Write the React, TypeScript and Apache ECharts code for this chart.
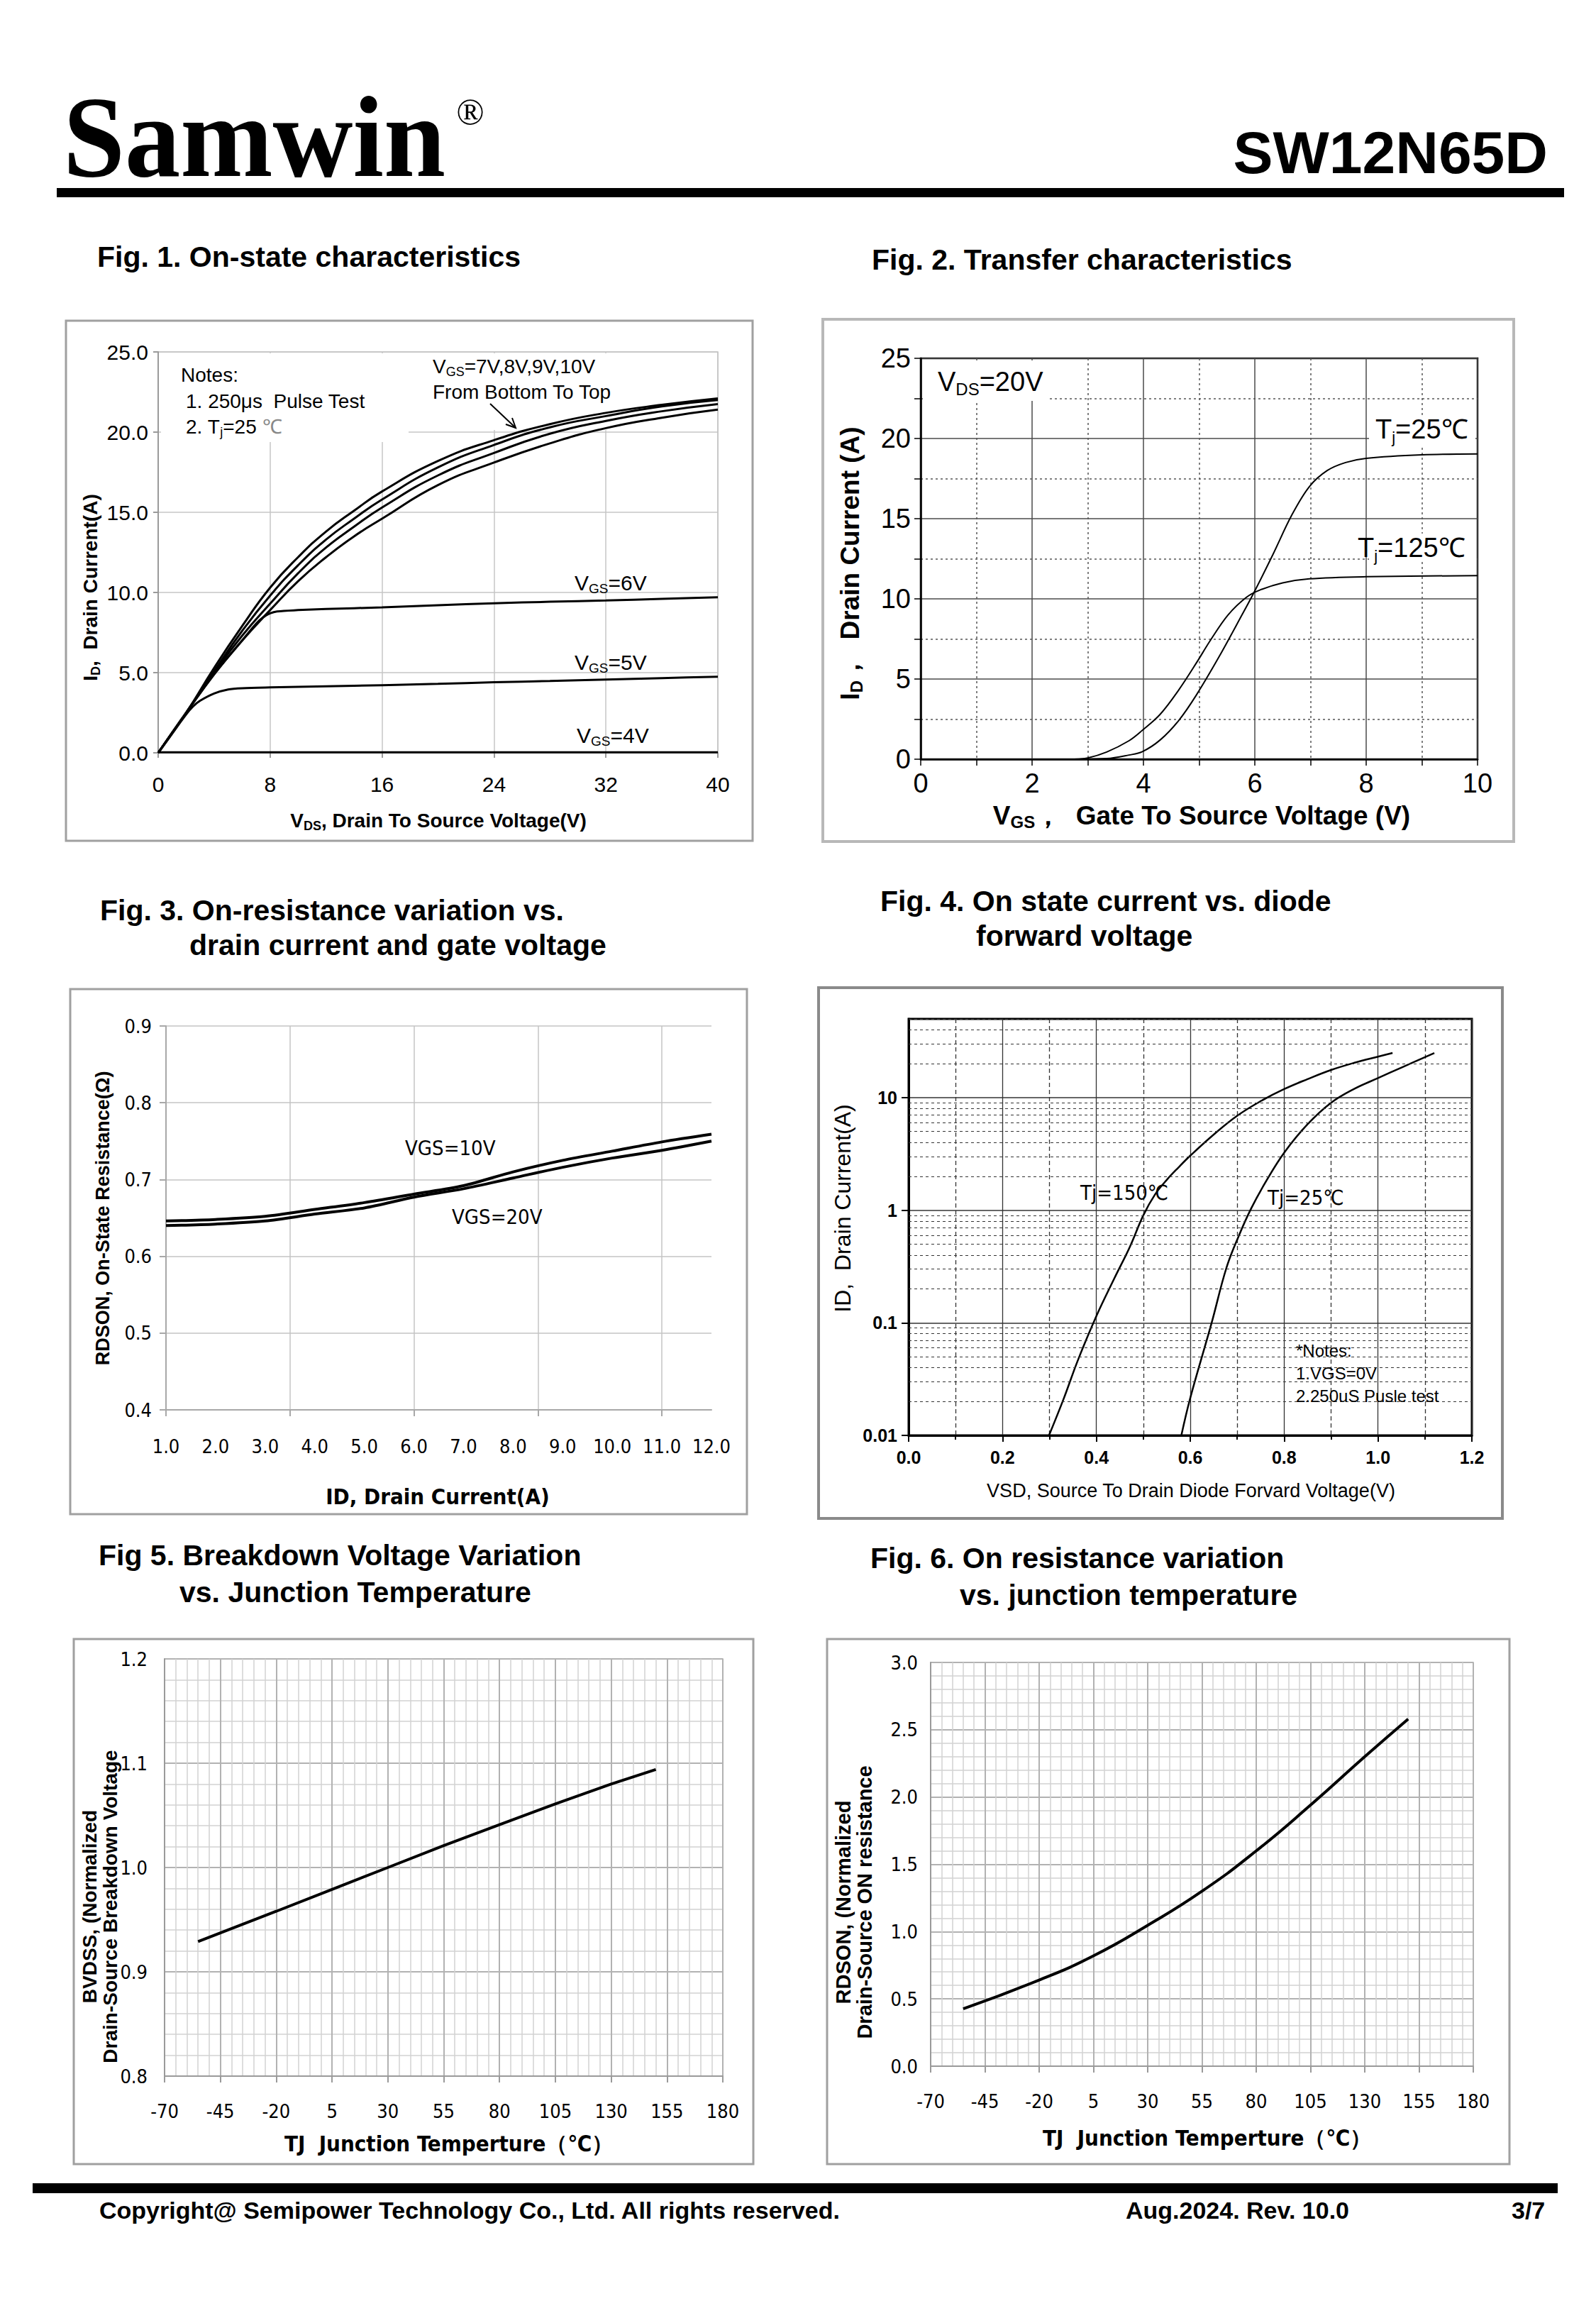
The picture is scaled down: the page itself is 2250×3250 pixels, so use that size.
import React, { useEffect, useRef } from "react";
import * as echarts from "echarts";

const ARIAL = '"Liberation Sans", Arial, Helvetica, sans-serif';
const NARROW = '"Liberation Sans Narrow", "Arial Narrow", "DejaVu Sans Condensed", "Liberation Sans", sans-serif';
const SERIF = '"Liberation Serif", "Times New Roman", serif';

// ---------- Fig. 1  On-state characteristics ----------
const fig1BundleVds = [0, 2, 4, 6, 8, 10, 12, 14, 16, 20, 24, 28, 32, 36, 40];
const fig1Id10V = [0, 2.5, 5.3, 7.9, 10.3, 12.2, 13.8, 15.1, 16.3, 18.2, 19.5, 20.5, 21.2, 21.7, 22.1];
const fig1Id9V = [0, 2.5, 5.1, 7.6, 9.8, 11.7, 13.3, 14.6, 15.8, 17.8, 19.2, 20.3, 21.0, 21.6, 22.0];
const fig1Id8V = [0, 2.5, 5.0, 7.3, 9.3, 11.2, 12.8, 14.1, 15.3, 17.3, 18.7, 19.9, 20.7, 21.3, 21.75];
const fig1Id7V = [0, 2.5, 4.9, 7.0, 8.9, 10.7, 12.2, 13.5, 14.6, 16.7, 18.1, 19.3, 20.25, 20.9, 21.4];
const fig1Vds6V = [0, 2, 4, 6, 7, 7.5, 8, 8.5, 10, 12, 16, 20, 24, 28, 32, 36, 40];
const fig1Id6V = [0, 2.5, 4.9, 7.0, 8.05, 8.45, 8.7, 8.82, 8.9, 8.97, 9.07, 9.2, 9.33, 9.42, 9.5, 9.6, 9.7];
const fig1Vds5V = [0, 1, 2, 2.5, 3, 4, 5, 6, 8, 12, 16, 20, 24, 28, 32, 36, 40];
const fig1Id5V = [0, 1.2, 2.4, 2.9, 3.25, 3.7, 3.95, 4.03, 4.08, 4.15, 4.22, 4.3, 4.4, 4.48, 4.57, 4.66, 4.75];
const fig1Vds4V = [0, 40];
const fig1Id4V = [0.03, 0.03];

// ---------- Fig. 2  Transfer characteristics ----------
const fig2Vgs25 = [2.77, 3.34, 3.74, 3.98, 4.3, 4.63, 4.95, 5.36, 5.77, 6.0, 6.33, 6.66, 6.98, 7.3, 7.63, 8.0, 9.0, 10];
const fig2Id25 = [0, 0.04, 0.26, 0.47, 1.2, 2.4, 4.0, 6.4, 9.0, 10.5, 12.8, 15.2, 17.0, 18.0, 18.5, 18.76, 18.98, 19.04];
const fig2Vgs125 = [2.77, 3.0, 3.34, 3.74, 3.98, 4.3, 4.63, 4.95, 5.2, 5.52, 5.85, 6.09, 6.5, 6.98, 8.0, 10];
const fig2Id125 = [0, 0.08, 0.45, 1.15, 1.8, 2.8, 4.3, 6.0, 7.4, 9.0, 10.1, 10.55, 11.0, 11.25, 11.38, 11.45];

// ---------- Fig. 3  On-resistance vs drain current ----------
const fig3Id = [1, 2, 3, 4, 5, 6, 7, 8, 9, 10, 11, 12];
const fig3R10V = [0.646, 0.648, 0.652, 0.661, 0.67, 0.681, 0.692, 0.71, 0.725, 0.737, 0.749, 0.759];
const fig3R20V = [0.64, 0.642, 0.646, 0.655, 0.663, 0.677, 0.688, 0.702, 0.716, 0.728, 0.738, 0.75];
const fig3GridX = [1, 3.5, 6, 8.5, 11];

// ---------- Fig. 4  Diode forward voltage ----------
const fig4Vsd150 = [0.299, 0.33, 0.361, 0.4, 0.438, 0.471, 0.5, 0.525, 0.55, 0.575, 0.6, 0.65, 0.7, 0.75, 0.8, 0.85, 0.9, 0.95, 1.0, 1.031];
const fig4Id150 = [0.01, 0.021, 0.047, 0.115, 0.247, 0.47, 0.9, 1.38, 1.86, 2.4, 3.05, 4.7, 6.9, 9.3, 11.9, 14.6, 17.6, 20.4, 23.1, 24.9];
const fig4Vsd25 = [0.581, 0.6, 0.645, 0.677, 0.703, 0.73, 0.763, 0.801, 0.85, 0.9, 0.95, 1.0, 1.05, 1.12];
const fig4Id25 = [0.01, 0.0215, 0.098, 0.307, 0.586, 1.04, 1.85, 3.28, 5.8, 9.0, 12.0, 14.9, 18.5, 24.9];
const fig4Decades = [0.01, 0.1, 1, 10];
const fig4Multipliers = [2, 3, 4, 5, 6, 7, 8, 9];
const fig4YLabels = ["0.01", "0.1", "1", "10"];

// ---------- Fig. 5  Breakdown voltage vs Tj ----------
const fig5Tj = [-55, -20, 5, 30, 55, 80, 105, 130, 150];
const fig5Bv = [0.929, 0.958, 0.979, 1.0, 1.021, 1.041, 1.061, 1.08, 1.094];

// ---------- Fig. 6  On resistance vs Tj ----------
const fig6Tj = [-55, -20, 5, 30, 55, 80, 105, 130, 150];
const fig6R = [0.426, 0.64, 0.82, 1.047, 1.3, 1.6, 1.94, 2.3, 2.58];

const tjTickLabels = [-70, -45, -20, 5, 30, 55, 80, 105, 130, 155, 180];

const pairs = (xs: number[], ys: number[]) => xs.map((x, i) => [x, ys[i]]);

function lineSeries(xs: number[], ys: number[], xi: number, yi: number, width: number, smooth: any = 0.4, extra: any = {}) {
  return {
    type: "line",
    data: pairs(xs, ys),
    xAxisIndex: xi,
    yAxisIndex: yi,
    showSymbol: false,
    symbol: "none",
    smooth,
    silent: true,
    z: 3,
    lineStyle: { color: "#000", width },
    ...extra,
  };
}

function txt(x: number, y: number, text: string, font: string, extra: any = {}, styleExtra: any = {}) {
  return {
    type: "text",
    x,
    y,
    z: 10,
    silent: true,
    ...extra,
    style: { text, font, fill: "#000", align: "left", verticalAlign: "middle", ...styleExtra },
  };
}

function richTxt(x: number, y: number, text: string, rich: any, extra: any = {}, styleExtra: any = {}) {
  return {
    type: "text",
    x,
    y,
    z: 10,
    silent: true,
    ...extra,
    style: { text, rich, fill: "#000", align: "left", verticalAlign: "middle", ...styleExtra },
  };
}

function subRich(size: number, subSize: number, family: string, weight = "normal", subLH?: number) {
  return {
    a: { fontSize: size, fontFamily: family, fontWeight: weight, lineHeight: size + 6, fill: "#000" },
    s: { fontSize: subSize, fontFamily: family, fontWeight: weight, lineHeight: subLH ?? subSize, verticalAlign: "bottom", fill: "#000" },
    c: { fontSize: size, fontFamily: family, fontWeight: weight, lineHeight: size + 6, fill: "#888" },
  };
}

function whiteRect(x: number, y: number, w: number, h: number) {
  return { type: "rect", z: 1, silent: true, shape: { x, y, width: w, height: h }, style: { fill: "#fff" } };
}

function frame(x: number, y: number, w: number, h: number, stroke = "#a0a0a0", lw = 3) {
  return { type: "rect", z: 0, silent: true, shape: { x, y, width: w, height: h }, style: { fill: "none", stroke, lineWidth: lw } };
}

function buildOption() {
  const gray = "#9a9a9a";
  const fig4MinorY: number[] = [];
  fig4Decades.forEach((d) => fig4Multipliers.forEach((m) => { if (d * m <= 50) fig4MinorY.push(d * m); }));

  const grid = [
    { left: 223, top: 496, width: 789, height: 565, show: true, borderColor: "#c0c0c0", borderWidth: 1.5 },
    { left: 1298, top: 505, width: 785, height: 565, show: true, borderColor: "#000", borderWidth: 2.5 },
    { left: 234, top: 1446, width: 769, height: 541 },
    { left: 1281, top: 1436, width: 794, height: 587, show: true, borderColor: "#000", borderWidth: 3 },
    { left: 232, top: 2338, width: 787, height: 588, show: true, borderColor: "#aaa", borderWidth: 1.5 },
    { left: 1312, top: 2343, width: 765, height: 569, show: true, borderColor: "#aaa", borderWidth: 1.5 },
  ];

  const tjAxes = (gi: number) => [
    {
      gridIndex: gi, type: "value", min: -70, max: 180, interval: 5, position: "bottom",
      axisLine: { onZero: false, lineStyle: { color: gray, width: 2 } },
      axisTick: { show: false },
      axisLabel: { customValues: tjTickLabels, fontSize: 27, fontFamily: NARROW, color: "#000", margin: 36 },
      splitLine: { show: true, lineStyle: { color: "#d2d2d2", width: 1.5 } },
    },
    {
      gridIndex: gi, type: "value", min: -70, max: 180, position: "bottom",
      axisLine: { show: false, onZero: false },
      axisLabel: { show: false },
      axisTick: { show: true, customValues: tjTickLabels, length: 9, lineStyle: { color: gray, width: 2 } },
      splitLine: { show: true, lineStyle: { color: "#b2b2b2", width: 2 } },
    },
  ];

  const xAxis: any[] = [
    // 0 fig1
    {
      gridIndex: 0, type: "value", min: 0, max: 40, interval: 8,
      axisLine: { onZero: false, lineStyle: { color: gray, width: 2 } },
      axisTick: { show: true, length: 7, lineStyle: { color: gray, width: 2 } },
      axisLabel: { color: "#000", fontSize: 30, fontFamily: ARIAL, margin: 29 },
      splitLine: { show: true, lineStyle: { color: "#c6c6c6", width: 1.5 } },
    },
    // 1 fig2
    {
      gridIndex: 1, type: "value", min: 0, max: 10, interval: 2,
      axisLine: { onZero: false, lineStyle: { color: "#000", width: 2.5 } },
      axisTick: { show: true, length: 9, lineStyle: { color: "#000", width: 1.5 } },
      minorTick: { show: true, splitNumber: 2, length: 9, lineStyle: { color: "#000", width: 1.5 } },
      axisLabel: { color: "#000", fontSize: 38, fontFamily: ARIAL, margin: 15 },
      splitLine: { show: true, lineStyle: { color: "#4a4a4a", width: 1.5 } },
      minorSplitLine: { show: true, lineStyle: { color: "#555", width: 1.5, type: [3, 4] } },
    },
    // 2 fig3 labels
    {
      gridIndex: 2, type: "value", min: 1, max: 12, interval: 1, position: "bottom",
      axisLine: { onZero: false, lineStyle: { color: "#a8a8a8", width: 2 } },
      axisTick: { show: false },
      axisLabel: { color: "#000", fontSize: 27, fontFamily: NARROW, margin: 38, formatter: (v: number) => v.toFixed(1) },
      splitLine: { show: false },
    },
    // 3 fig3 grid lines
    {
      gridIndex: 2, type: "value", min: 1, max: 12, position: "bottom",
      axisLine: { show: false, onZero: false },
      axisLabel: { show: false },
      axisTick: { show: true, customValues: fig3GridX, length: 9, lineStyle: { color: "#a8a8a8", width: 2 } },
      splitLine: { show: true, lineStyle: { color: "#c4c4c4", width: 1.5 } },
    },
    // 4 fig4
    {
      gridIndex: 3, type: "value", min: 0, max: 1.2, interval: 0.2,
      axisLine: { onZero: false, lineStyle: { color: "#000", width: 3 } },
      axisTick: { show: true, length: 9, lineStyle: { color: "#000", width: 2 } },
      minorTick: { show: true, splitNumber: 2, length: 6, lineStyle: { color: "#000", width: 2 } },
      axisLabel: { fontWeight: "bold", fontSize: 25, fontFamily: ARIAL, color: "#000", margin: 18, formatter: (v: number) => v.toFixed(1) },
      splitLine: { show: true, lineStyle: { color: "#333", width: 1.3 } },
      minorSplitLine: { show: true, lineStyle: { color: "#333", width: 1.3, type: [6, 4] } },
    },
    // 5,6 fig5
    ...tjAxes(4),
    // 7,8 fig6
    ...tjAxes(5),
  ];

  const yAxis: any[] = [
    {
      gridIndex: 0, type: "value", min: 0, max: 25, interval: 5,
      axisLine: { show: true, onZero: false, lineStyle: { color: gray, width: 2 } },
      axisTick: { show: true, length: 7, lineStyle: { color: gray, width: 2 } },
      axisLabel: { color: "#000", fontSize: 30, fontFamily: ARIAL, margin: 14, formatter: (v: number) => v.toFixed(1) },
      splitLine: { show: true, lineStyle: { color: "#c6c6c6", width: 1.5 } },
    },
    {
      gridIndex: 1, type: "value", min: 0, max: 25, interval: 5,
      axisLine: { show: true, onZero: false, lineStyle: { color: "#000", width: 2.5 } },
      axisTick: { show: true, length: 9, lineStyle: { color: "#000", width: 1.5 } },
      minorTick: { show: true, splitNumber: 2, length: 9, lineStyle: { color: "#000", width: 1.5 } },
      axisLabel: { color: "#000", fontSize: 38, fontFamily: ARIAL, margin: 14 },
      splitLine: { show: true, lineStyle: { color: "#4a4a4a", width: 1.5 } },
      minorSplitLine: { show: true, lineStyle: { color: "#555", width: 1.5, type: [3, 4] } },
    },
    {
      gridIndex: 2, type: "value", min: 0.4, max: 0.9, interval: 0.1,
      axisLine: { show: true, onZero: false, lineStyle: { color: "#a8a8a8", width: 2 } },
      axisTick: { show: true, length: 9, lineStyle: { color: "#a8a8a8", width: 2 } },
      axisLabel: { color: "#000", fontSize: 27, fontFamily: NARROW, margin: 20, formatter: (v: number) => v.toFixed(1) },
      splitLine: { show: true, lineStyle: { color: "#c4c4c4", width: 1.5 } },
    },
    {
      gridIndex: 3, type: "log", logBase: 10, min: 0.01, max: 50,
      axisLine: { show: true, onZero: false, lineStyle: { color: "#000", width: 3 } },
      axisTick: { show: true, length: 10, lineStyle: { color: "#000", width: 2 } },
      axisLabel: {
        fontWeight: "bold", fontSize: 25, fontFamily: ARIAL, color: "#000", margin: 16, showMaxLabel: false,
        formatter: (v: number) => fig4YLabels[Math.round(Math.log10(v)) + 2] ?? "",
      },
      splitLine: { show: true, showMaxLine: false, lineStyle: { color: "#333", width: 1.5 } },
    },
    {
      gridIndex: 4, type: "value", min: 0.8, max: 1.2, interval: 0.1,
      axisLine: { show: true, onZero: false, lineStyle: { color: gray, width: 2 } },
      axisTick: { show: false },
      minorTick: { show: false, splitNumber: 5 },
      axisLabel: { color: "#000", fontSize: 27, fontFamily: NARROW, margin: 24, formatter: (v: number) => v.toFixed(1) },
      splitLine: { show: true, lineStyle: { color: "#b2b2b2", width: 2 } },
      minorSplitLine: { show: true, lineStyle: { color: "#d2d2d2", width: 1.5 } },
    },
    {
      gridIndex: 5, type: "value", min: 0, max: 3, interval: 0.5,
      axisLine: { show: true, onZero: false, lineStyle: { color: gray, width: 2 } },
      axisTick: { show: false },
      minorTick: { show: false, splitNumber: 5 },
      axisLabel: { color: "#000", fontSize: 27, fontFamily: NARROW, margin: 18, formatter: (v: number) => v.toFixed(1) },
      splitLine: { show: true, lineStyle: { color: "#b2b2b2", width: 2 } },
      minorSplitLine: { show: true, lineStyle: { color: "#d2d2d2", width: 1.5 } },
    },
  ];

  const series: any[] = [
    lineSeries(fig1Vds4V, fig1Id4V, 0, 0, 3, false),
    lineSeries(fig1Vds5V, fig1Id5V, 0, 0, 3, 0.3),
    lineSeries(fig1Vds6V, fig1Id6V, 0, 0, 3, 0.3),
    lineSeries(fig1BundleVds, fig1Id7V, 0, 0, 3, 0.5),
    lineSeries(fig1BundleVds, fig1Id8V, 0, 0, 3, 0.5),
    lineSeries(fig1BundleVds, fig1Id9V, 0, 0, 3, 0.5),
    lineSeries(fig1BundleVds, fig1Id10V, 0, 0, 3, 0.5),

    lineSeries(fig2Vgs25, fig2Id25, 1, 1, 2, 0.35),
    lineSeries(fig2Vgs125, fig2Id125, 1, 1, 2, 0.35),

    lineSeries(fig3Id, fig3R10V, 2, 2, 4, 0.3),
    lineSeries(fig3Id, fig3R20V, 2, 2, 4, 0.3),

    lineSeries(fig4Vsd150, fig4Id150, 4, 3, 2.5, 0.4),
    lineSeries(fig4Vsd25, fig4Id25, 4, 3, 2.5, 0.4, {
      markLine: {
        silent: true,
        symbol: ["none", "none"],
        label: { show: false },
        animation: false,
        lineStyle: { color: "#333", type: [4, 4], width: 1.2 },
        data: fig4MinorY.map((v) => ({ yAxis: v })),
      },
    }),

    lineSeries(fig5Tj, fig5Bv, 5, 4, 4, false),
    lineSeries(fig6Tj, fig6R, 7, 5, 4, 0.5),
  ];

  const titleFont = `bold 41px ${ARIAL}`;
  const graphic: any[] = [
    // header
    txt(89, 193, "Samwin", `bold 163px ${SERIF}`, { scaleX: 0.96 }),
    txt(663, 157, "®", `52px ${SERIF}`, {}, { align: "center" }),
    txt(2182, 215, "SW12N65D", `bold 84px ${ARIAL}`, {}, { align: "right" }),
    { type: "rect", z: 5, silent: true, shape: { x: 80, y: 265, width: 2125, height: 13 }, style: { fill: "#000" } },

    // titles
    txt(137, 362, "Fig. 1. On-state characteristics", titleFont),
    txt(1229, 366, "Fig. 2. Transfer characteristics", titleFont),
    txt(141, 1283, "Fig. 3. On-resistance variation vs.", titleFont),
    txt(267, 1332, "drain current and gate voltage", titleFont),
    txt(1241, 1270, "Fig. 4. On state current vs. diode", titleFont),
    txt(1376, 1319, "forward voltage", titleFont),
    txt(139, 2192, "Fig 5. Breakdown Voltage Variation", titleFont),
    txt(253, 2244, "vs. Junction Temperature", titleFont),
    txt(1227, 2196, "Fig. 6. On resistance variation", titleFont),
    txt(1353, 2248, "vs. junction temperature", titleFont),

    // frames
    frame(93, 452, 968, 733),
    frame(1160, 450, 974, 736, "#b8b8b8", 4),
    frame(99, 1394, 954, 740),
    frame(1154, 1392, 964, 748, "#8a8a8a", 4),
    frame(104, 2310, 958, 740),
    frame(1166, 2310, 962, 740),

    // Fig 1 annotations
    whiteRect(227, 498, 349, 125),
    whiteRect(578, 498, 430, 108),
    txt(255, 528, "Notes:", `28px ${ARIAL}`),
    txt(262, 565, "1. 250μs  Pulse Test", `28px ${ARIAL}`),
    richTxt(262, 601, "{a|2. T}{s|j}{a|=25 }{c|℃}", subRich(28, 18, ARIAL)),
    richTxt(610, 516, "{a|V}{s|GS}{a|=7V,8V,9V,10V}", subRich(28, 18, ARIAL)),
    txt(610, 552, "From Bottom To Top", `28px ${ARIAL}`),
    { type: "line", z: 10, silent: true, shape: { x1: 691, y1: 569, x2: 727, y2: 603 }, style: { stroke: "#000", lineWidth: 2 } },
    { type: "polyline", z: 10, silent: true, shape: { points: [[722, 589], [727, 603], [713, 598]] }, style: { stroke: "#000", lineWidth: 2, fill: "none" } },
    richTxt(810, 821, "{a|V}{s|GS}{a|=6V}", subRich(30, 19, ARIAL)),
    richTxt(810, 933, "{a|V}{s|GS}{a|=5V}", subRich(30, 19, ARIAL)),
    richTxt(813, 1036, "{a|V}{s|GS}{a|=4V}", subRich(30, 19, ARIAL)),
    richTxt(127, 828, "{a|I}{s|D}{a|,  Drain Current(A)}", subRich(28, 18, ARIAL, "bold"), { rotation: Math.PI / 2 }, { align: "center" }),
    richTxt(618, 1156, "{a|V}{s|DS}{a|, Drain To Source Voltage(V)}", subRich(28, 18, ARIAL, "bold"), {}, { align: "center" }),

    // Fig 2 annotations
    whiteRect(1301, 508, 177, 57),
    whiteRect(1930, 585, 150, 42),
    whiteRect(1930, 752, 150, 40),
    richTxt(1322, 538, "{a|V}{s|DS}{a|=20V}", subRich(38, 24, ARIAL, "normal", 30)),
    richTxt(1939, 605, "{a|T}{s|j}{a|=25℃}", subRich(38, 22, ARIAL)),
    richTxt(1914, 772, "{a|T}{s|j}{a|=125℃}", subRich(38, 22, ARIAL)),
    richTxt(1198, 794, "{a|I}{s|D}{a|，  Drain Current (A)}", subRich(37, 24, ARIAL, "bold", 30), { rotation: Math.PI / 2 }, { align: "center" }),
    richTxt(1694, 1149, "{a|V}{s|GS}{a|，  Gate To Source Voltage (V)}", subRich(37, 24, ARIAL, "bold", 30), {}, { align: "center" }),

    // Fig 3 annotations
    txt(571, 1618, "VGS=10V", `29px ${NARROW}`),
    txt(637, 1715, "VGS=20V", `29px ${NARROW}`),
    txt(145, 1717, "RDSON, On-State Resistance(Ω)", `bold 27px ${ARIAL}`, { rotation: Math.PI / 2 }, { align: "center" }),
    txt(617, 2109, "ID, Drain Current(A)", `bold 31px ${NARROW}`, {}, { align: "center" }),

    // Fig 4 annotations
    txt(1523, 1681, "Tj=150℃", `29px ${NARROW}`),
    txt(1787, 1688, "Tj=25℃", `29px ${NARROW}`),
    txt(1827, 1903, "*Notes:", `24px ${ARIAL}`),
    txt(1827, 1935, "1.VGS=0V", `24px ${ARIAL}`),
    txt(1827, 1967, "2.250uS Pusle test", `24px ${ARIAL}`),
    txt(1188, 1703, "ID,  Drain Current(A)", `32px ${ARIAL}`, { rotation: Math.PI / 2 }, { align: "center" }),
    txt(1679, 2101, "VSD, Source To Drain Diode Forvard Voltage(V)", `27px ${ARIAL}`, {}, { align: "center" }),

    // Fig 5 annotations
    txt(126, 2687, "BVDSS, (Normalized", `bold 28px ${ARIAL}`, { rotation: Math.PI / 2 }, { align: "center" }),
    txt(155, 2687, "Drain-Source Breakdown Voltage", `bold 28px ${ARIAL}`, { rotation: Math.PI / 2 }, { align: "center" }),
    txt(633, 3021, "TJ  Junction Temperture（℃）", `bold 31px ${NARROW}`, {}, { align: "center" }),

    // Fig 6 annotations
    txt(1189, 2681, "RDSON, (Normalized", `bold 29px ${ARIAL}`, { rotation: Math.PI / 2 }, { align: "center" }),
    txt(1219, 2681, "Drain-Source ON resistance", `bold 29px ${ARIAL}`, { rotation: Math.PI / 2 }, { align: "center" }),
    txt(1702, 3013, "TJ  Junction Temperture（℃）", `bold 31px ${NARROW}`, {}, { align: "center" }),

    // footer
    { type: "rect", z: 5, silent: true, shape: { x: 46, y: 3077, width: 2150, height: 14 }, style: { fill: "#000" } },
    txt(140, 3115, "Copyright@ Semipower Technology Co., Ltd. All rights reserved.", `bold 34px ${ARIAL}`),
    txt(1587, 3115, "Aug.2024. Rev. 10.0", `bold 34px ${ARIAL}`),
    txt(2131, 3115, "3/7", `bold 34px ${ARIAL}`),
  ];

  return {
    animation: false,
    backgroundColor: "#fff",
    grid,
    xAxis,
    yAxis,
    series,
    graphic: { elements: graphic },
  };
}

export default function App() {
  const ref = useRef<HTMLDivElement>(null);
  useEffect(() => {
    if (!ref.current) return;
    const chart = echarts.init(ref.current, null, { renderer: "svg" });
    chart.setOption(buildOption() as any);
    return () => chart.dispose();
  }, []);
  return (
    <div
      ref={ref}
      style={{ position: "absolute", left: 0, top: 0, width: 2250, height: 3250, background: "#fff" }}
    />
  );
}
